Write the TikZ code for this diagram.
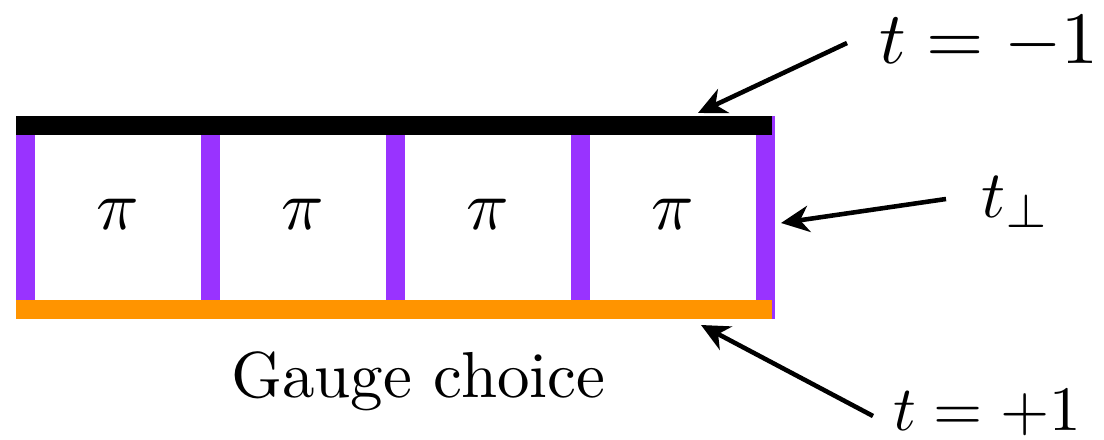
\documentclass[tikz,border=0pt]{standalone}
\usetikzlibrary{arrows.meta}
\definecolor{linkpurple}{RGB}{153,51,255}
\definecolor{gaugeorange}{RGB}{255,148,0}
\tikzset{
  pointer/.style={line width=2.6pt,-{Stealth[length=16pt,width=15pt,inset=5pt]}},
  lbl/.style={inner sep=0pt,anchor=base west},
}
\begin{document}
\begin{tikzpicture}[x=0.02cm,y=-0.02cm]
  \useasboundingbox (0,0) rectangle (1104,439);
  % t_perp links
  \foreach \i in {0,...,4}{
    \fill[linkpurple] (16+185*\i,116) rectangle (35+185*\i,319);
  }
  \fill[black] (16,116) rectangle (772,135);
  \fill[gaugeorange] (16,300) rectangle (772,319);
  \foreach \i in {1,...,4}
    \node[scale=4] (pi\i) at (-67+185*\i,214) {$\pi$};
  \node[lbl,scale=3.7] (gauge) at (230,397) {Gauge choice};
  % labels and pointers
  \node[lbl,scale=4.2] (tminus) at (878,64) {$t=-1$};
  \node[lbl,scale=3.8] (tperp) at (980,217) {$t_\perp$};
  \node[lbl,scale=3.6] (tplus) at (892,430) {$t=+1$};
  \coordinate (topbar) at (698,113);
  \coordinate (rightlink) at (781,223);
  \coordinate (botbar) at (701,325);
  \coordinate (tminustail) at (847,43);
  \coordinate (tperptail) at (946,199);
  \coordinate (tplustail) at (873,416);
  \draw[pointer] (tminustail) -- (topbar);
  \draw[pointer] (tperptail) -- (rightlink);
  \draw[pointer] (tplustail) -- (botbar);
\end{tikzpicture}
\end{document}
